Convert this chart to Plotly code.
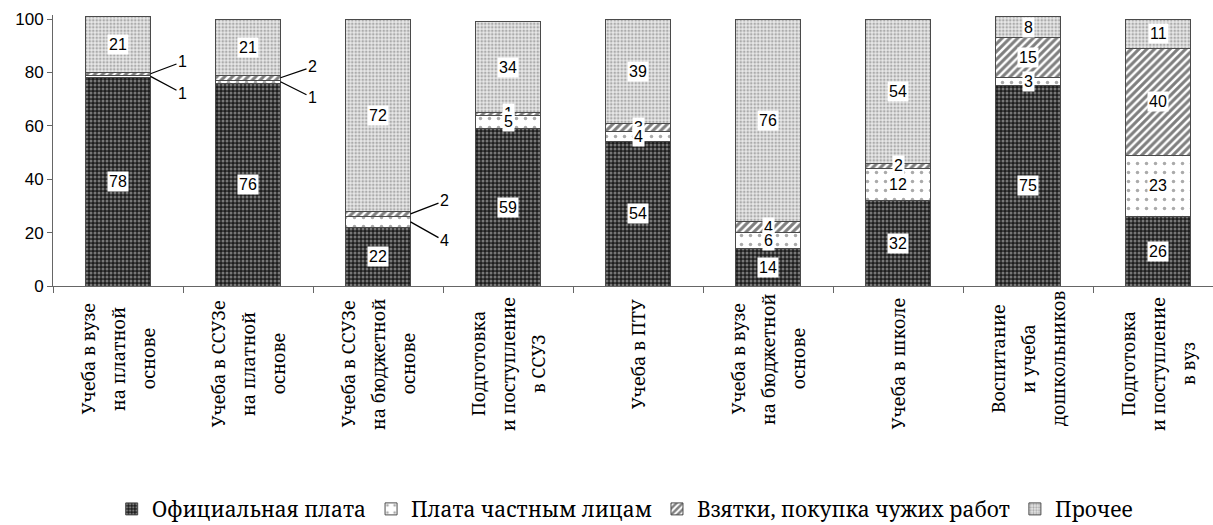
import plotly.graph_objects as go

# ---------------- data ----------------
categories = [
    ["Учеба в вузе", "на платной", "основе"],
    ["Учеба в ССУЗе", "на платной", "основе"],
    ["Учеба в ССУЗе", "на бюджетной", "основе"],
    ["Подготовка", "и поступление", "в ССУЗ"],
    ["Учеба в ПТУ"],
    ["Учеба в вузе", "на бюджетной", "основе"],
    ["Учеба в школе"],
    ["Воспитание", "и учеба", "дошкольников"],
    ["Подготовка", "и поступление", "в вуз"],
]
series_names = ["Официальная плата", "Плата частным лицам",
                "Взятки, покупка чужих работ", "Прочее"]
official = [78, 76, 22, 59, 54, 14, 32, 75, 26]
private = [1, 1, 4, 5, 4, 6, 12, 3, 23]
bribes = [1, 2, 2, 1, 3, 4, 2, 15, 40]
other = [21, 21, 72, 34, 39, 76, 54, 8, 11]
y_ticks = [0, 20, 40, 60, 80, 100]

series_values = [official, private, bribes, other]

# ---------------- style ----------------
patterns = [
    dict(shape=".", bgcolor="#1e1e1e", fgcolor="#d0d0d0", size=4, solidity=0.45),
    dict(shape=".", bgcolor="#ffffff", fgcolor="#555555", size=9, solidity=0.12),
    dict(shape="/", bgcolor="#ffffff", fgcolor="#000000", size=5.5, solidity=0.55),
    dict(shape=".", bgcolor="#e8e8e8", fgcolor="#6e6e6e", size=3.5, solidity=0.45),
]
# callouts for thin segments: (category index, series index) -> (ax, ay) pixel offsets
callouts = {
    (0, 2): (32, -12), (0, 1): (32, 17),
    (1, 2): (32, -11), (1, 1): (32, 16),
    (2, 2): (34, -13), (2, 1): (34, 19),
}
NUM_FONT = dict(family="Liberation Sans, Arial", size=16, color="black")
SERIF = "Noto Serif, DejaVu Serif, serif"
BAR_W = 0.5

cat_keys = [" ".join(c) for c in categories]

fig = go.Figure()
for name, vals, pat in zip(series_names, series_values, patterns):
    fig.add_trace(go.Bar(
        x=cat_keys, y=vals, name=name, width=BAR_W,
        marker=dict(color=pat["bgcolor"], pattern=pat,
                    line=dict(color="#4a4a4a", width=1)),
        hoverinfo="skip",
    ))

annotations = []
# value labels (drawn top series first so lower labels cover upper ones)
for s in reversed(range(len(series_values))):
    for i in range(len(categories)):
        base = sum(series_values[k][i] for k in range(s))
        v = series_values[s][i]
        mid = base + v / 2
        if (i, s) in callouts:
            ax, ay = callouts[(i, s)]
            annotations.append(dict(
                x=i + BAR_W / 2, y=mid, xref="x", yref="y", text=str(v),
                showarrow=True, arrowhead=0, arrowwidth=1.3, arrowcolor="black",
                ax=ax, ay=ay, standoff=0, font=NUM_FONT))
        else:
            annotations.append(dict(
                x=i, y=mid, xref="x", yref="y", text=str(v), showarrow=False,
                bgcolor="white", borderpad=1, font=NUM_FONT))

# category labels, rotated, lines centered on each other
LINE_GAP = 30
CHAR_W = 10.2
for i, lines in enumerate(categories):
    n = len(lines)
    longest = max(len(l) for l in lines) * CHAR_W
    for j, line in enumerate(lines):
        annotations.append(dict(
            x=i, y=0, xref="x", yref="y", text=line, showarrow=False,
            textangle=-90, xanchor="center", yanchor="middle",
            xshift=(j - (n - 1) / 2) * LINE_GAP, yshift=-(12 + longest / 2),
            font=dict(family=SERIF, size=18, color="black")))

fig.update_layout(
    width=1213, height=525,
    barmode="stack",
    plot_bgcolor="white", paper_bgcolor="white",
    margin=dict(l=53, r=0, t=15, b=239, autoexpand=False),
    showlegend=True,
    legend=dict(orientation="h", xref="container", yref="container",
                x=0.515, xanchor="center", y=0.03, yanchor="middle",
                traceorder="normal",
                font=dict(family=SERIF, size=21, color="black"),
                itemwidth=30),
    annotations=annotations,
)
fig.update_xaxes(
    type="category", range=[-0.5, 8.423], tickson="boundaries",
    showticklabels=False, ticks="outside", ticklen=6, tickcolor="#666",
    showline=True, linecolor="#666", linewidth=1, showgrid=False, zeroline=False,
    fixedrange=True,
)
fig.update_yaxes(
    range=[0, 101.5], tickvals=y_ticks, ticks="outside", ticklen=5,
    tickcolor="#666", showline=True, linecolor="#666", linewidth=1,
    showgrid=False, zeroline=False,
    tickfont=dict(family="Liberation Sans, Arial", size=17, color="black"),
    fixedrange=True,
)

fig.write_html(
    "out.html",
    config={"displayModeBar": False},
    post_script="document.body.style.margin='0';document.body.style.overflow='hidden';",
)
